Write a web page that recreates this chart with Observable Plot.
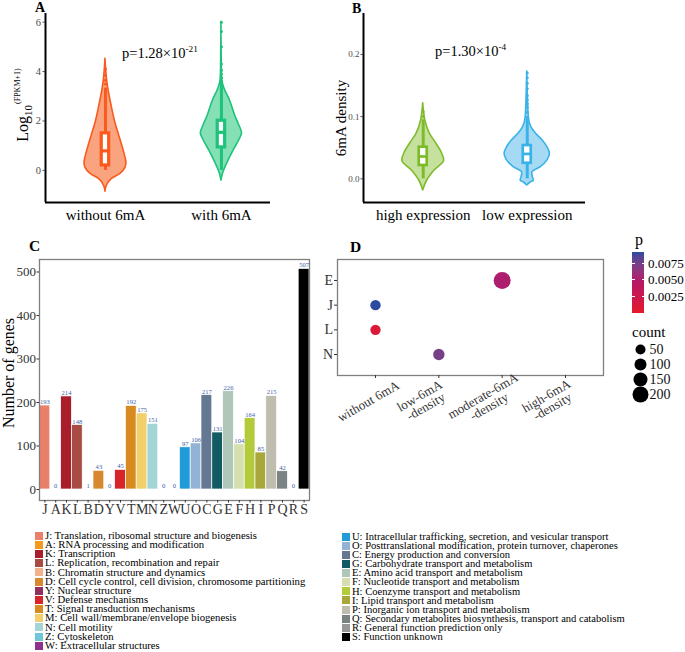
<!DOCTYPE html>
<html><head><meta charset="utf-8">
<script src="https://cdn.jsdelivr.net/npm/d3@7"></script>
<script src="https://cdn.jsdelivr.net/npm/@observablehq/plot@0.6"></script>
<style>
body{margin:0;background:#fff;}
#root{position:relative;width:685px;height:652px;overflow:hidden;background:#fff;font-family:'Liberation Serif','Times New Roman',serif;color:#000;}
.tag{position:absolute;font-weight:bold;line-height:1;}
.lg{position:absolute;font-size:10.7px;line-height:9px;height:9px;white-space:nowrap;}
.lg.r{font-size:10.55px;}
.sq{position:absolute;width:8px;height:8px;}
.txt{position:absolute;white-space:nowrap;line-height:1;}
</style></head>
<body><div id="root"></div>
<script>
const serif = "'Liberation Serif','Times New Roman',serif";
// ---------- Panel A data ----------
const aGroups = ["without 6mA", "with 6mA"];
// violin outline: [value, relative half-width]
const aViolinWithout = [[-0.86,0],[-0.6,0.08],[-0.35,0.3],[-0.15,0.7],[0.1,0.95],[0.3,1.0],[0.6,0.93],[1.0,0.8],[1.5,0.62],[2.0,0.45],[2.5,0.32],[3.0,0.2],[3.5,0.1],[4.0,0.04],[4.52,0]];
const aViolinWith = [[-0.41,0],[-0.15,0.07],[0.28,0.28],[0.82,0.6],[1.2,0.85],[1.5,1.0],[1.85,0.85],[2.18,0.68],[2.86,0.4],[3.3,0.15],[3.6,0.05],[4.0,0.02],[6.0,0]];
const aBoxWithout = {lo:0, q1:0.2, med:0.79, q3:1.5, hi:3.33};
const aBoxWith = {lo:0, q1:0.93, med:1.54, q3:2.01, hi:3.63};
const aOutWithout = [3.5,3.65,3.85,4.1];
const aOutWith = [3.75,3.9,4.05,4.31,5.0,5.62,6.0];
const aTicks = [0,2,4,6];
// ---------- Panel B data ----------
const bGroups = ["high expression", "low expression"];
const bViolinHigh = [[-0.0188,0],[-0.0027,0.19],[0.0133,0.54],[0.0294,1.0],[0.0428,0.87],[0.0563,0.63],[0.0723,0.32],[0.094,0.1],[0.11,0.03],[0.1216,0]];
const bViolinLow = [[-0.0108,0],[-0.006,0.15],[-0.003,0.29],[0.004,0.24],[0.010,0.22],[0.0187,0.6],[0.030,0.9],[0.0402,1.0],[0.05,0.9],[0.0616,0.68],[0.0723,0.39],[0.083,0.18],[0.099,0.07],[0.13,0.03],[0.1725,0]];
const bBoxHigh = {lo:0, q1:0.0214, med:0.0359, q3:0.0508, hi:0.095};
const bBoxLow = {lo:0, q1:0.025, med:0.040, q3:0.0535, hi:0.096};
const bOutHigh = [0.1, 0.108];
const bOutLow = [0.099,0.107,0.115,0.1206,0.127,0.134,0.1447,0.1537,0.1624,0.17];
const bTicks = [0,0.1,0.2];
// ---------- Panel C data ----------
const cogCodes = ["J","A","K","L","B","D","Y","V","T","M","N","Z","W","U","O","C","G","E","F","H","I","P","Q","R","S"];
const cogCounts = [193,0,214,148,1,43,0,45,192,175,151,0,0,97,106,217,131,226,104,164,85,215,42,0,507];
const cogColors = ["#E8806A","#F39A1E","#A91E2A","#A84B42","#F3B08F","#D8892E","#8E2F5E","#D7242A","#D68A1F","#F2CF6B","#A3D5D6","#6CC7D6","#8E318E","#219AD8","#92B2D6","#647893","#125B63","#AEC7B9","#D6DFAF","#B3CB3A","#A8A83A","#BEBDAE","#7B8282","#989898","#000000"];
const cogNames = ["Translation, ribosomal structure and biogenesis","RNA processing and modification","Transcription","Replication, recombination and repair","Chromatin structure and dynamics","Cell cycle control, cell division, chromosome partitioning","Nuclear structure","Defense mechanisms","Signal transduction mechanisms","Cell wall/membrane/envelope biogenesis","Cell motility","Cytoskeleton","Extracellular structures","Intracellular trafficking, secretion, and vesicular transport","Posttranslational modification, protein turnover, chaperones","Energy production and conversion","Carbohydrate transport and metabolism","Amino acid transport and metabolism","Nucleotide transport and metabolism","Coenzyme transport and metabolism","Lipid transport and metabolism","Inorganic ion transport and metabolism","Secondary metabolites biosynthesis, transport and catabolism","General function prediction only","Function unknown"];
const cTicks = [0,100,200,300,400,500];
// ---------- Panel D data ----------
const dGroups = ["without 6mA","low-6mA\n-density","moderate-6mA\n-density","high-6mA\n-density"];
const dCogs = ["E","J","L","N"];
const enrichGroup = ["moderate-6mA\n-density","without 6mA","without 6mA","low-6mA\n-density"];
const enrichCog = ["E","J","L","N"];
const enrichCount = [226,60,58,85];
const enrichP = [0.0052,0.0092,0.0008,0.0074];
const pBreaks = [0.0025,0.005,0.0075];
const countBreaks = [50,100,150,200];

const root = document.getElementById("root");
function place(el, left, top){ el.style.position="absolute"; el.style.left=left+"px"; el.style.top=top+"px"; root.appendChild(el); return el; }
const baseStyle = {fontFamily: serif, fontSize: "10px", background: "transparent", overflow: "visible", color: "black"};

function violinMarks(profile, center, halfMax, st, outs, stroke, fill, boxHalf, sw){
  return [
    Plot.areaX(profile, {y: d=>d[0], x1: d=>center-d[1]*halfMax, x2: d=>center+d[1]*halfMax, fill, stroke, strokeWidth: 1.6, curve: "monotone-y"}),
    Plot.ruleX([st], {x: ()=>center, y1: "lo", y2: "hi", stroke, strokeWidth: 3}),
    Plot.dot(outs, {x: ()=>center, y: d=>d, r: 1.5, fill: stroke}),
    Plot.rect([st], {x1: ()=>center-boxHalf, x2: ()=>center+boxHalf, y1: "q1", y2: "q3", fill: "white", stroke, strokeWidth: sw}),
    Plot.ruleY([st], {y: "med", x1: ()=>center-boxHalf, x2: ()=>center+boxHalf, stroke, strokeWidth: sw})
  ];
}
function supText(svg, x, y, base, sup, size){
  const t = d3.select(svg).append("text").attr("x",x).attr("y",y).attr("text-anchor","start").attr("font-size",size).attr("font-family",serif).attr("fill","black");
  t.append("tspan").text(base);
  t.append("tspan").attr("dy",-size*0.42).attr("font-size",size*0.64).text(sup);
}

// ---------- Panel A ----------
const aX = [0.483, 2.423], aY = [-1.3, 6.35];
const plotA = Plot.plot({
  width: 280, height: 230, marginLeft: 45, marginRight: 10, marginTop: 13, marginBottom: 28,
  style: baseStyle,
  x: {domain: aX}, y: {domain: aY},
  marks: [
    ...violinMarks(aViolinWithout, 1, 0.181, aBoxWithout, aOutWithout, "#FA5A1E", "#F9A47E", 0.032, 3.2),
    ...violinMarks(aViolinWith, 2, 0.178, aBoxWith, aOutWith, "#1EC27A", "#86E0B6", 0.032, 3.2),
    Plot.ruleX([aX[0]], {stroke: "black", strokeWidth: 2}),
    Plot.ruleY([aY[0]], {stroke: "black", strokeWidth: 2}),
    Plot.axisY({ticks: aTicks, tickSize: 2.5, tickPadding: 2, fontSize: 10.5, color: "#4d4d4d", label: null}),
    Plot.axisX({ticks: [1,2], tickFormat: i => aGroups[i-1], tickSize: 0, tickPadding: 7, fontSize: 15, color: "black", label: null})
  ]
});
supText(plotA, 122, 58, "p=1.28×10", "-21", 14.5);
{
  const t = d3.select(plotA).append("text").attr("transform","translate(28,105) rotate(-90)").attr("text-anchor","middle").attr("font-family",serif).attr("font-size",16);
  t.append("tspan").text("Log");
  t.append("tspan").attr("dy",4).attr("font-size",11).text("10");
  t.append("tspan").attr("dy",-12).attr("dx",1).attr("font-size",8).text("(FPKM+1)");
}
place(plotA, 0, 0);

// ---------- Panel B ----------
const bX = [0.426, 2.56], bY = [-0.0381, 0.2658];
const plotB = Plot.plot({
  width: 282, height: 230, marginLeft: 45, marginRight: 15, marginTop: 13, marginBottom: 28,
  style: baseStyle,
  x: {domain: bX}, y: {domain: bY},
  marks: [
    ...violinMarks(bViolinHigh, 1, 0.202, bBoxHigh, bOutHigh, "#7DBB2B", "#C6E19E", 0.0385, 2.7),
    ...violinMarks(bViolinLow, 2, 0.218, bBoxLow, bOutLow, "#3AB2E8", "#A6DAF4", 0.0385, 2.7),
    Plot.ruleX([bX[0]], {stroke: "black", strokeWidth: 2}),
    Plot.ruleY([bY[0]], {stroke: "black", strokeWidth: 2}),
    Plot.axisY({ticks: bTicks, tickFormat: d3.format(".1f"), tickSize: 2.5, tickPadding: 1.5, fontSize: 9, color: "#4d4d4d", label: null}),
    Plot.axisX({ticks: [1,2], tickFormat: i => bGroups[i-1], tickSize: 0, tickPadding: 7, fontSize: 15, color: "black", label: null})
  ]
});
supText(plotB, 117, 56, "p=1.30×10", "-4", 14.5);
d3.select(plotB).append("text").attr("transform","translate(28,118) rotate(-90)").attr("text-anchor","middle").attr("font-family",serif).attr("font-size",15).text("6mA density");
place(plotB, 318, 0);

// ---------- Panel C ----------
const cData = cogCodes.map((c,i)=>({code:c, n:cogCounts[i]}));
const plotC = Plot.plot({
  width: 312, height: 285, marginLeft: 39, marginRight: 3, marginTop: 19, marginBottom: 25,
  style: baseStyle,
  x: {type: "band", domain: cogCodes, padding: 0, round: false},
  y: {domain: [-25.3, 528.7]},
  color: {domain: cogCodes, range: cogColors},
  marks: [
    Plot.barY(cData, {x: "code", y: "n", fill: "code", stroke: "white", strokeWidth: 0.7}),
    Plot.text(cData, {x: "code", y: "n", text: d => String(d.n), dy: -3.6, fill: "#3f62a8", fontSize: 6.6}),
    Plot.frame({stroke: "#7f7f7f", strokeWidth: 1.3}),
    Plot.axisY({ticks: cTicks, tickSize: 2.5, tickPadding: 1, fontSize: 13, color: "#333", label: null}),
    Plot.axisX({tickSize: 2.5, tickPadding: 1, fontSize: 14, color: "#333", label: null})
  ]
});
d3.select(plotC).append("text").attr("transform","translate(14,133) rotate(-90)").attr("text-anchor","middle").attr("font-family",serif).attr("font-size",16).text("Number of genes");
place(plotC, 0, 240);

// ---------- Panel D ----------
const colorOpts = {type: "linear", domain: [0, 0.005, 0.0092], range: ["#E31A2A", "#B3186C", "#2C4A9E"], interpolate: "lab"};
const rOpts = {type: "linear", domain: [50, 200], range: [5, 8]};
const dData = enrichCog.map((c,i)=>({cog:c, group:enrichGroup[i], count:enrichCount[i], p:enrichP[i]}));
const single = dGroups.filter(g => !g.includes("\n"));
const multi = dGroups.filter(g => g.includes("\n"));
const plotD = Plot.plot({
  width: 306, height: 200, marginLeft: 37, marginRight: 3, marginTop: 19, marginBottom: 65,
  style: baseStyle,
  x: {type: "point", domain: dGroups, padding: 0.6, round: false},
  y: {type: "point", domain: dCogs, padding: 0.85, round: false},
  color: colorOpts, r: rOpts,
  marks: [
    Plot.frame({stroke: "#7f7f7f", strokeWidth: 1.3}),
    Plot.dot(dData, {x: "group", y: "cog", r: "count", fill: "p"}),
    Plot.axisY({tickSize: 3, tickPadding: 1.5, fontSize: 14, color: "#333", label: null}),
    Plot.axisX({tickSize: 3, tickFormat: () => "", color: "#333", label: null}),
    Plot.text(single, {x: d=>d, frameAnchor: "bottom", text: d=>d, rotate: -30, textAnchor: "middle", lineAnchor: "middle", dx: -7, dy: 26, fontSize: 13, fill: "#333"}),
    Plot.text(multi, {x: d=>d, frameAnchor: "bottom", text: d=>d, rotate: -30, textAnchor: "middle", lineAnchor: "middle", dx: -16, dy: 26, fontSize: 13, lineHeight: 0.95, fill: "#333"})
  ]
});
place(plotD, 300, 240);

// p colorbar legend
const cScale = Plot.scale({color: colorOpts});
const pMax = colorOpts.domain[colorOpts.domain.length-1];
const stops = d3.range(0, 11).map(i => { const v = pMax*i/10; return `${cScale.apply(v)} ${100 - i*10}%`; }).reverse();
const bar = document.createElement("div");
bar.style.width = "12px"; bar.style.height = "61px";
bar.style.background = `linear-gradient(to bottom, ${stops.join(",")})`;
place(bar, 632, 252);
const barTop = 252, barH = 61;
pBreaks.forEach(v => {
  const y = barTop + barH*(1 - v/pMax);
  ["left","right"].forEach(side => {
    const t = document.createElement("div");
    t.style.width = "2.5px"; t.style.height = "1px"; t.style.background = "white";
    place(t, side === "left" ? 632 : 641.5, y - 0.5);
  });
  const l = document.createElement("div"); l.className = "txt"; l.style.fontSize = "13px"; l.textContent = d3.format(".4f")(v);
  place(l, 648, y - 6.5);
});
{ const t = document.createElement("div"); t.className="txt"; t.style.fontSize="16px"; t.textContent="p"; place(t, 635, 232); }
{ const t = document.createElement("div"); t.className="txt"; t.style.fontSize="15px"; t.textContent="count"; place(t, 632, 325); }
// count legend
const plotCount = Plot.plot({
  width: 57, height: 66, margin: 0, style: baseStyle,
  x: {domain: [0, 57], axis: null},
  y: {type: "point", domain: countBreaks, range: [9, 54], padding: 0, axis: null},
  r: rOpts,
  marks: [
    Plot.dot(countBreaks, {x: () => 12, y: d=>d, r: d=>d, fill: "black"}),
    Plot.text(countBreaks, {x: () => 21, y: d=>d, text: d=>String(d), textAnchor: "start", fontSize: 14, fill: "#111"})
  ]
});
place(plotCount, 628, 340);

// ---------- COG legend ----------
cogCodes.forEach((c,i) => {
  const left = i < 13;
  const row = left ? i : i - 13;
  const cy = left ? 536 + row*9.17 : 537 + row*9.1;
  const sx = left ? 35 : 342;
  const sq = document.createElement("div"); sq.className = "sq"; sq.style.background = cogColors[i];
  place(sq, sx, cy - 4.3);
  const t = document.createElement("div"); t.className = left ? "lg" : "lg r"; t.textContent = `${c}: ${cogNames[i]}`;
  place(t, sx + 10, cy - 5.05);
});

// panel tags
[["A",35,0.5,14],["B",352,1.5,14],["C",29,237.5,15.5],["D",350,239,15.5]].forEach(([s,x,y,f]) => {
  const t = document.createElement("div"); t.className = "tag"; t.style.fontSize = f+"px"; t.textContent = s; place(t, x, y);
});
</script></body></html>
